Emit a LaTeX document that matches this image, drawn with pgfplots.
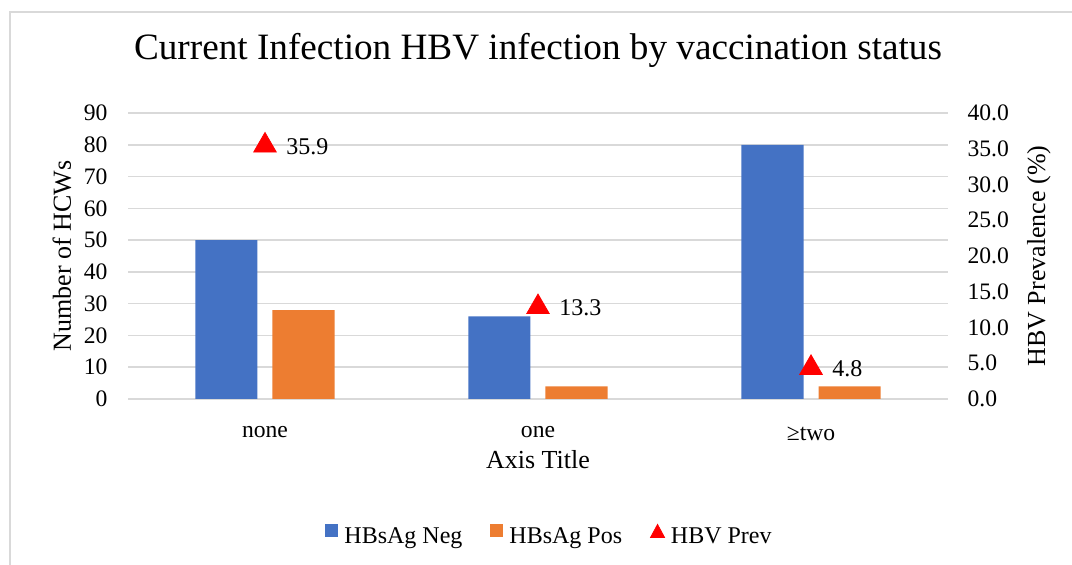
\documentclass[border=0pt]{standalone}
\usepackage{pgfplots}
\pgfplotsset{compat=1.18}
\usepackage{fontspec}
\setmainfont{Liberation Serif}
\definecolor{cblue}{HTML}{4472C4}
\definecolor{corange}{HTML}{ED7D31}
\definecolor{cgrid}{HTML}{D9D9D9}
\begin{document}
\begin{tikzpicture}
\useasboundingbox (0,0) rectangle (536pt,282.5pt);
\draw[cgrid, line width=1pt] (5pt,0) -- (5pt,276.5pt) -- (536pt,276.5pt);
\node[font=\fontsize{18.6}{22}\selectfont] at (269pt,257.5pt) {Current Infection HBV infection by vaccination status};
\begin{axis}[
  at={(64.25pt,83pt)}, anchor=south west, scale only axis,
  width=409.5pt, height=143pt,
  xmin=-0.5, xmax=2.5, ymin=0, ymax=90,
  ytick={0,10,...,90}, xtick={0,1,2}, xticklabels={none,one,≥two},
  axis line style={draw=none}, tick style={draw=none},
  ymajorgrids, grid style={cgrid, line width=0.8pt},
  ybar=7.5pt, bar width=31pt,
  ticklabel style={font=\fontsize{11.8}{14}\selectfont},
  /pgf/number format/assume math mode=true,
  yticklabel style={xshift=-7pt},
  xticklabel style={yshift=-6pt},
  xlabel={Axis Title}, ylabel={Number of HCWs},
  label style={font=\fontsize{13}{16}\selectfont},
  xlabel style={at={(axis description cs:0.5,-0.2133)}, anchor=center},
  ylabel style={at={(axis description cs:-0.0812,0.5)}, anchor=center},
  legend style={draw=none, fill=none, legend columns=3,
    at={(axis description cs:0.5147,-0.4825)}, anchor=center,
    font=\fontsize{12}{14}\selectfont,
    nodes={inner sep=1.5pt},
    /tikz/every odd column/.append style={column sep=1.5pt},
    /tikz/every even column/.append style={column sep=12.5pt}},
]
\addplot[fill=cblue, draw=none, legend image code/.code={\fill[cblue] (0pt,0pt) rectangle (6.5pt,6.5pt);}] coordinates {(0,50)(1,26)(2,80)};
\addplot[fill=corange, draw=none, legend image code/.code={\fill[corange] (0pt,0pt) rectangle (6.5pt,6.5pt);}] coordinates {(0,28)(1,4)(2,4)};
\addlegendimage{legend image code/.code={\fill[red] (0pt,0pt) -- (7pt,0pt) -- (3.5pt,6.5pt) -- cycle;}}
\legend{HBsAg Neg, HBsAg Pos, HBV Prev}
\end{axis}
\begin{axis}[
  at={(64.25pt,83pt)}, anchor=south west, scale only axis,
  width=409.5pt, height=143pt,
  xmin=-0.5, xmax=2.5, ymin=0, ymax=40,
  ytick={0,5,...,40},
  hide x axis, axis y line*=right,
  axis line style={draw=none}, tick style={draw=none},
  ticklabel style={font=\fontsize{11.8}{14}\selectfont},
  /pgf/number format/assume math mode=true,
  yticklabel style={xshift=6.5pt, /pgf/number format/.cd, fixed, fixed zerofill, precision=1},
  ylabel={HBV Prevalence (\%)},
  label style={font=\fontsize{13}{16}\selectfont},
  ylabel style={at={(axis description cs:1.1117,0.5)}, anchor=center},
]
\addplot[only marks, mark=triangle*, mark size=6.5pt, color=red,
  mark options={yshift=-1.6pt},
  point meta=y,
  nodes near coords={\pgfmathprintnumber[fixed,precision=1]{\pgfplotspointmeta}},
  nodes near coords style={anchor=west, xshift=10.5pt, yshift=-0.5pt, inner sep=0pt, text=black, font=\fontsize{12}{14}\selectfont}]
  coordinates {(0,35.9)(1,13.3)(2,4.8)};
\end{axis}
\end{tikzpicture}
\end{document}
